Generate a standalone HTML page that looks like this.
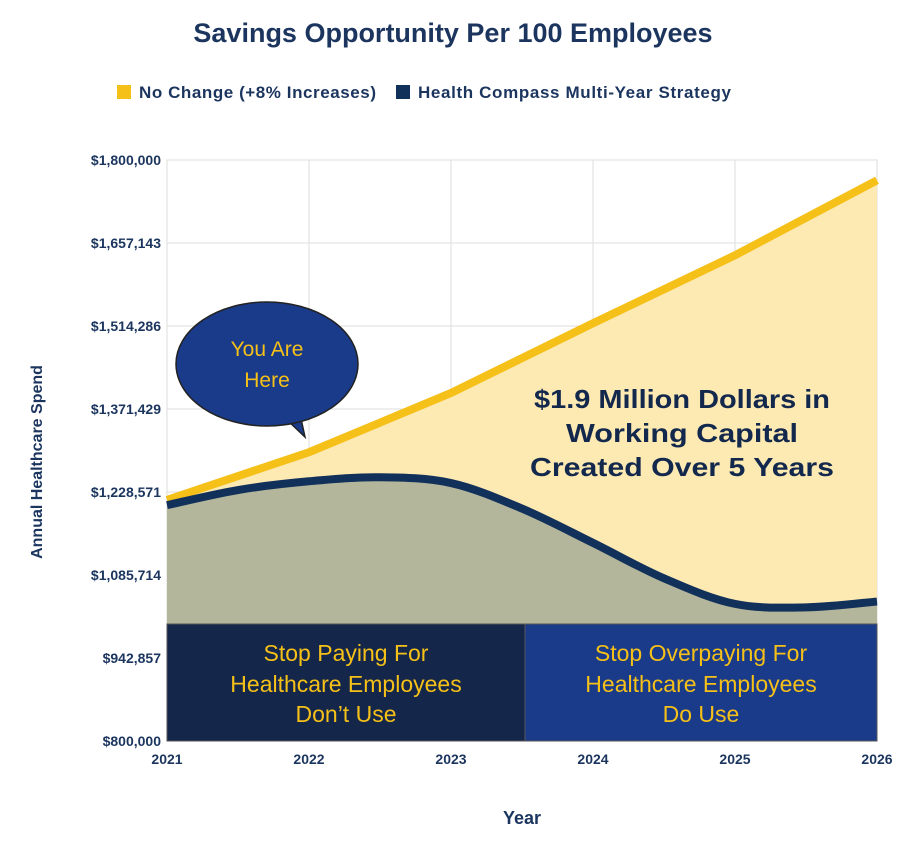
<!DOCTYPE html>
<html><head><meta charset="utf-8"><style>
body{margin:0;background:#fff;font-family:"Liberation Sans",sans-serif;}
svg text{font-family:"Liberation Sans",sans-serif;}
</style></head><body>
<svg id="chart" width="906" height="836">
<text x="453" y="42" text-anchor="middle" font-size="27" font-weight="bold" fill="#1b355e">Savings Opportunity Per 100 Employees</text>
<g>
<rect x="117" y="85" width="14" height="14" fill="#f5c018"/>
<text x="139" y="98" font-size="17" font-weight="bold" fill="#1b355e" textLength="237">No Change (+8% Increases)</text>
<rect x="396" y="85" width="14" height="14" fill="#11305a"/>
<text x="418" y="98" font-size="17" font-weight="bold" fill="#1b355e" textLength="313">Health Compass Multi-Year Strategy</text>
</g>
<g id="grid"></g>
<g id="areas"></g>
<g id="yticks"></g>
<g id="xticks"></g>
<text transform="translate(42,462) rotate(-90)" text-anchor="middle" font-size="16" font-weight="bold" fill="#1b355e">Annual Healthcare Spend</text>
<text x="522" y="824" text-anchor="middle" font-size="18" font-weight="bold" fill="#1b355e">Year</text>
<g>
<path d="M285,418 L305,437 L300,414 Z" fill="#1a3a8a" stroke="#222" stroke-width="1.5"/>
<ellipse cx="267" cy="364" rx="91" ry="62" fill="#1a3a8a" stroke="#222" stroke-width="1.5"/>
<path d="M283,420 L300,414" stroke="#1a3a8a" stroke-width="3"/>
<text x="267" y="356" text-anchor="middle" font-size="21" fill="#f5c018">You Are</text>
<text x="267" y="387" text-anchor="middle" font-size="21" fill="#f5c018">Here</text>
</g>
<g font-size="26" font-weight="bold" fill="#13284d" text-anchor="middle">
<text x="682" y="408" textLength="296" lengthAdjust="spacingAndGlyphs">$1.9 Million Dollars in</text>
<text x="682" y="442" textLength="232" lengthAdjust="spacingAndGlyphs">Working Capital</text>
<text x="682" y="476" textLength="304" lengthAdjust="spacingAndGlyphs">Created Over 5 Years</text>
</g>
<g>
<rect x="167" y="624" width="358" height="117" fill="#14264a" stroke="#555"/>
<rect x="525" y="624" width="352" height="117" fill="#1a3a8a" stroke="#555"/>
<g font-size="23" fill="#f5c018" text-anchor="middle">
<text x="346" y="661">Stop Paying For</text><text x="346" y="692">Healthcare Employees</text><text x="346" y="722">Don’t Use</text>
<text x="701" y="661">Stop Overpaying For</text><text x="701" y="692">Healthcare Employees</text><text x="701" y="722">Do Use</text>
</g>
</g>
</svg>
<script>
const years=[2021,2022,2023,2024,2025,2026];
const yTicks=[800000,942857,1085714,1228571,1371429,1514286,1657143,1800000];
const noChangeX=[2021,2022,2023,2024,2025,2026];
const noChangeY=[1215000,1297000,1399000,1519000,1636000,1765000];
const strategyX=[2021,2021.5,2022,2022.5,2023,2023.5,2024,2024.5,2025,2025.5,2026];
const strategyY=[1206000,1232000,1247000,1254000,1244000,1200000,1141000,1080000,1036000,1030000,1040000];
const NS='http://www.w3.org/2000/svg';
const x0=167,x1=877,yTop=160,yBot=741;
const sx=v=>x0+(v-2021)/5*(x1-x0);
const sy=v=>yBot-(v-800000)/1000000*(yBot-yTop);
function mk(t,a,p){const e=document.createElementNS(NS,t);for(const k in a)e.setAttribute(k,a[k]);p.appendChild(e);return e;}
const grid=document.getElementById('grid');
mk('rect',{x:x0,y:yTop,width:x1-x0,height:yBot-yTop,fill:'#fff',stroke:'#ccc'},grid);
yTicks.forEach(t=>{const l=mk('line',{x1:x0,x2:x1,y1:sy(t),y2:sy(t),stroke:'#ddd'},grid);


const tx=mk('text',{x:x0-6,y:sy(t)+5,'text-anchor':'end','font-size':14,'font-weight':'bold',fill:'#1b355e'},document.getElementById('yticks'));
tx.textContent='$'+t.toLocaleString('en-US');

});
years.forEach(y=>{const l=mk('line',{x1:sx(y),x2:sx(y),y1:yTop,y2:yBot,stroke:'#ddd'},grid);


const tx=mk('text',{x:sx(y),y:yBot+23,'text-anchor':'middle','font-size':14,'font-weight':'bold',fill:'#1b355e'},document.getElementById('xticks'));
tx.textContent=y;

});
function smooth(xs,ys){const p=xs.map((x,i)=>[sx(x),sy(ys[i])]);let d='M'+p[0].join(',');
for(let i=0;i<p.length-1;i++){const a=p[i-1]||p[i],b=p[i],c=p[i+1],e=p[i+2]||c;
d+=` C${b[0]+(c[0]-a[0])/6},${b[1]+(c[1]-a[1])/6} ${c[0]-(e[0]-b[0])/6},${c[1]-(e[1]-b[1])/6} ${c[0]},${c[1]}`;}return d;}
const areas=document.getElementById('areas');
const nc=noChangeX.map((x,i)=>sx(x)+','+sy(noChangeY[i])).join(' L');
const a1=mk('path',{d:'M'+nc+` L${x1},${yBot} L${x0},${yBot} Z`,fill:'#fde9b2'},areas);


const sp=smooth(strategyX,strategyY);
const a2=mk('path',{d:sp+` L${x1},${yBot} L${x0},${yBot} Z`,fill:'#b3b69b'},areas);


const l1=mk('path',{d:'M'+nc,fill:'none',stroke:'#f5c018','stroke-width':8},areas);


const l2=mk('path',{d:sp,fill:'none',stroke:'#11305a','stroke-width':8},areas);


</script>
</body></html>
